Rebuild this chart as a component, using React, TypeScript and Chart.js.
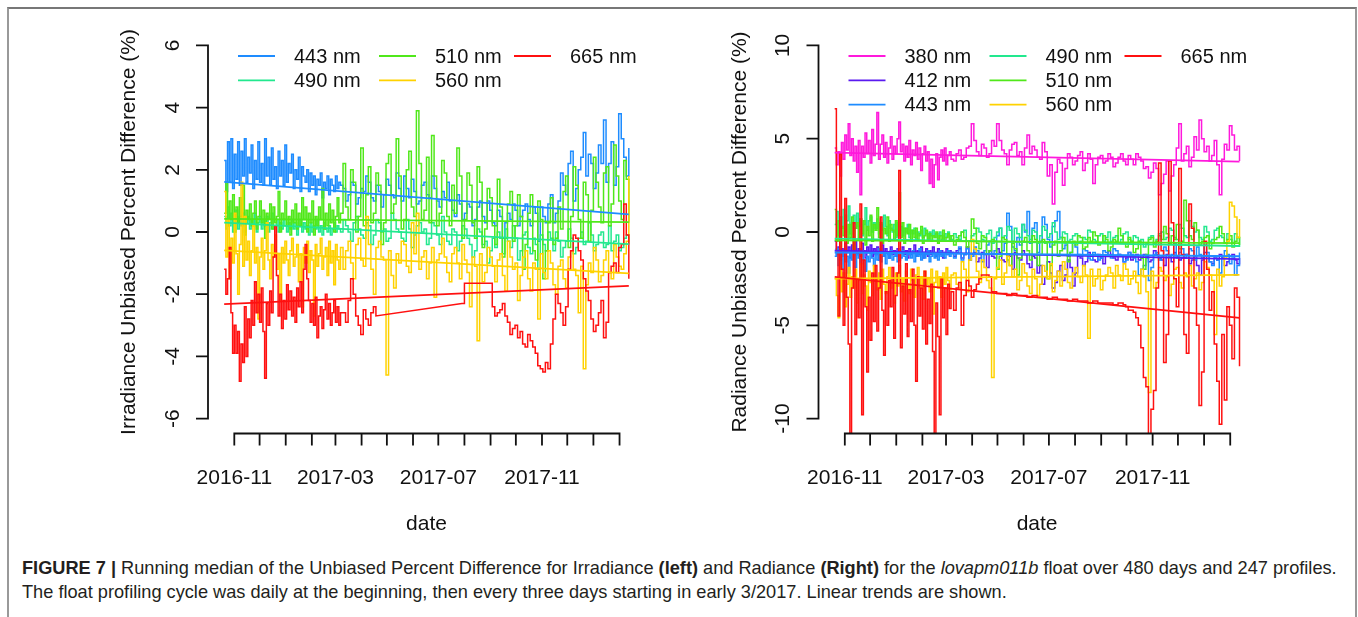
import React, { useEffect, useRef } from 'react';
import { Chart, registerables } from 'chart.js';

Chart.register(...registerables);

// ---------- shared time axis (days since 2016-11-01) ----------
// daily-ish profiles until early March 2017, then every three days
const DAYS = [
  -12, -10, -8, -6, -4, -2, 0, 2, 4, 6,
  8, 10, 12, 14, 16, 18, 20, 22, 24, 26,
  28, 30, 32, 34, 36, 38, 40, 42, 44, 46,
  48, 50, 52, 54, 56, 58, 60, 62, 64, 66,
  68, 70, 72, 74, 76, 78, 80, 82, 84, 86,
  88, 90, 92, 94, 96, 98, 100, 102, 104, 106,
  108, 110, 112, 114, 116, 118, 120, 122, 124, 126,
  129, 132, 135, 138, 141, 144, 147, 150, 153, 156,
  159, 162, 165, 168, 171, 174, 177, 180, 183, 186,
  189, 192, 195, 198, 201, 204, 207, 210, 213, 216,
  219, 222, 225, 228, 231, 234, 237, 240, 243, 246,
  249, 252, 255, 258, 261, 264, 267, 270, 273, 276,
  279, 282, 285, 288, 291, 294, 297, 300, 303, 306,
  309, 312, 315, 318, 321, 324, 327, 330, 333, 336,
  339, 342, 345, 348, 351, 354, 357, 360, 363, 366,
  369, 372, 375, 378, 381, 384, 387, 390, 393, 396,
  399, 402, 405, 408, 411, 414, 417, 420, 423, 426,
  429, 432, 435, 438, 441, 444, 447, 450, 453, 456,
  459, 462, 465, 468,
];
const MONTH_TICKS = [0, 30, 61, 92, 120, 151, 181, 212, 242, 273, 304, 334, 365, 395, 426, 457];
const MONTH_LABELS = ['2016-11', '', '', '', '2017-03', '', '', '', '2017-07', '', '', '', '2017-11', '', '', ''];
const X_MIN = -31.2;
const X_MAX = 487.2;

// ---------- left panel: irradiance ----------
const LEFT_BANDS = ['443 nm', '490 nm', '510 nm', '560 nm', '665 nm'];
const LEFT_COLORS = ['#1E8CFF', '#22E88E', '#50E81A', '#FFD200', '#FF1010'];
const LEFT_Y_TICKS = [-6, -4, -2, 0, 2, 4, 6];

const LEFT_443 = [
  2.3, 1.3, 2.9, 1.6, 3.0, 1.4, 2.5, 1.7, 2.9, 1.5,
  2.6, 1.8, 3.0, 1.6, 2.4, 1.9, 2.8, 1.4, 2.3, 1.7,
  2.9, 1.6, 2.2, 1.5, 3.0, 1.8, 2.4, 1.5, 2.7, 1.7,
  2.1, 1.4, 2.6, 1.8, 2.3, 1.5, 2.8, 1.6, 2.2, 1.9,
  2.5, 1.4, 2.0, 1.7, 2.4, 1.3, 2.1, 1.8, 1.6, 2.0,
  1.3, 1.9, 1.5, 1.8, 1.2, 1.7, 1.5, 1.9, 1.1, 1.6,
  1.4, 1.8, 1.2, 1.7, 1.5, 1.3, 1.8, 1.4, 1.6, 1.5,
  1.4, 1.0, 1.2, 1.6, 1.5, 0.9, 1.1, 1.4, 1.3, 1.8, 1.6, 1.1, 1.0, 1.5, 1.3, 0.8, 1.2, 1.7, 1.5, 1.2,
  1.1, 1.9, 1.4, 1.0, 1.8, 1.4, 1.1, 1.7, 1.3, 0.9, 1.0, 1.5, 1.6, 1.2, 1.1, 1.8, 1.4, 1.0, 0.8, 1.3,
  1.1, 1.6, 1.0, 0.7, 0.5, 1.2, 0.9, 0.4, 0.6, 0.9, 0.8, 0.2, 0.4, 0.8, 1.0, 0.5, 0.3, 1.0, 0.7, 0.3,
  0.2, 0.7, 0.5, -0.2, 0.3, 0.6, 0.4, 0.9, 0.7, 0.2, 0.5, 0.7, 0.9, 0.4, 0.2, 0.8, 0.6, -0.3, 0.8, 0.5,
  0.3, 0.9, 1.2, 0.3, 0.6, 1.0, 1.9, 1.5, 1.2, 2.2, 2.6, 1.0, 1.4, 2.0, 2.4, 3.2, 1.8, 2.5, 2.2, 1.4,
  1.9, 2.8, 2.2, 3.6, 1.6, 2.2, 2.9, 1.5, 2.1, 3.8, 3.0, 2.4, 1.8, 2.7,
];
const LEFT_490 = [
  0.5, 0.1, 0.8, 0.2, 0.6, 0.0, 0.4, 0.7, 0.1, 0.5,
  0.2, 0.6, 0.0, 0.3, 0.5, 0.1, 0.4, 0.2, 0.6, 0.0,
  0.3, 0.5, 0.1, 0.4, 0.2, 0.5, 0.0, 0.3, 0.6, 0.1,
  0.2, 0.4, 0.0, 0.3, 0.1, 0.4, 0.2, 0.0, 0.3, 0.1,
  0.4, 0.1, 0.3, -0.1, 0.2, 0.4, 0.0, 0.3, 0.1, 0.2,
  -0.1, 0.3, 0.0, 0.2, 0.1, 0.4, 0.0, 0.2, -0.1, 0.3,
  0.1, 0.0, 0.2, -0.1, 0.1, 0.3, 0.0, 0.2, 0.1, 0.0,
  0.4, 0.2, 0.0, -0.3, 0.3, 0.5, 0.1, -0.1, -0.2, 0.3, 0.2, -0.4, -0.1, 0.4, 0.3, 0.0, 0.1, -0.3, -0.2, 0.6,
  0.4, 0.1, 0.0, -0.2, -0.3, 0.4, 0.1, -0.5, -0.1, 0.2, 0.3, 0.0, 0.1, -0.4, -0.2, 0.3, 0.2, -0.1, -0.4, 0.5,
  0.0, -0.3, -0.4, 0.1, 0.0, -0.6, -0.3, 0.2, 0.1, -0.2, -0.4, -0.8, -0.6, 0.1, 0.0, -0.4, -0.3, -1.0, -0.6, -0.2,
  -0.5, 0.0, -0.2, -0.7, 0.1, -0.3, -0.5, 0.2, -0.2, -0.9, -0.6, -0.1, 0.0, -0.5, -0.7, -0.2, -0.4, -1.2, -0.1, -0.4,
  -0.6, 0.0, -0.2, -0.6, 0.0, -0.3, -0.8, -0.5, -0.3, 0.1, -0.2, -0.7, -0.5, -0.2, 0.0, -0.4, -0.3, 0.3, -0.1, -0.6,
  -0.4, -0.1, 0.0, -0.5, -0.4, 0.2, -0.6, -0.3, -0.1, -0.6, -0.5, -0.2, -0.1, -0.4,
];
const LEFT_510 = [
  0.6, 1.6, 0.2, 1.0, 0.4, 1.2, 0.0, 0.8, 0.3, 1.1,
  0.5, 1.5, -0.1, 0.7, 0.4, 0.9, 0.2, 0.6, 1.0, 0.1,
  0.5, 1.0, 0.3, 0.7, -0.2, 0.6, 0.4, 0.9, 0.1, 0.8,
  0.3, 0.5, 1.3, 0.0, 0.6, 0.4, 1.0, 0.2, 0.5, -0.1,
  0.7, 0.3, 0.9, 0.1, 0.6, 0.2, 1.1, 0.4, 0.8, 0.0,
  0.6, 0.3, 1.0, -0.1, 0.5, 0.2, 0.8, 0.4, 1.4, 0.1,
  0.6, 0.2, 0.9, 0.3, 0.7, 0.0, 0.5, 1.1, 0.3, 0.6,
  2.2, 0.8, 0.4, 2.0, 1.6, 0.0, 0.5, 2.7, 0.2, 1.2, 2.1, 0.3, 0.6, 1.9, 1.5, -0.4, 0.3, 2.2, 2.5, 0.6,
  0.9, 3.0, 1.8, 0.1, 0.4, 2.0, 2.6, 0.8, 0.5, 3.9, 2.2, 0.4, 0.7, 2.4, 0.3, 3.1, 1.8, 0.2, 0.6, 2.3,
  1.9, 0.5, 0.2, 1.5, 0.6, 2.7, 1.8, -0.2, 0.4, 1.9, 1.5, 0.3, -0.2, 2.1, 1.6, -0.5, 0.1, 1.4, 1.1, 0.2,
  -0.4, 1.7, 0.8, -0.8, -0.2, 0.9, 1.3, -0.3, 0.2, 1.2, 0.5, -1.2, -0.4, 0.6, 1.2, -0.6, -0.9, 1.0, 0.4, -1.5,
  -0.6, 0.3, 1.1, -0.4, -0.2, 0.8, 0.1, 1.3, 1.8, -0.5, 0.5, 2.1, 1.5, 0.4, -0.2, 1.6, 1.2, -0.3, 0.7, 2.4,
  1.6, 0.8, 0.3, 1.9, 2.1, 0.2, 0.9, 2.8, 1.8, 1.0, 0.4, 2.3, 1.7, 0.3,
];
const LEFT_560 = [
  1.3, -0.8, 0.4, -1.5, -0.2, -1.0, 0.6, -0.7, -2.0, -0.4,
  1.6, -1.1, 0.5, -0.9, -0.3, -1.4, -0.6, 0.2, -1.0, -0.5,
  -2.8, -0.8, -0.2, -1.2, -0.6, 0.3, -0.9, -1.5, -0.4, -0.8,
  -0.1, -1.2, -0.7, -2.2, -0.5, -1.0, -0.3, -0.9, -1.4, -0.6,
  -0.2, -1.1, -0.8, -0.4, -1.6, -0.7, -2.4, -0.5, -1.0, -0.3,
  -1.3, -0.6, -0.9, -2.7, -0.4, -1.1, -0.7, -0.2, -1.2, -0.8,
  -0.5, -1.4, -0.3, -1.0, -0.6, -1.7, -0.4, -0.9, -1.2, -0.5,
  -1.2, -0.6, -0.3, -1.0, -1.5, -0.4, -0.2, -0.9, -1.1, 0.5, -0.4, -1.2, -2.0, -0.5, -0.3, -0.8, -0.9, -4.6, -0.6, -1.4,
  -1.8, -0.7, -1.0, -0.3, -0.4, -1.1, -1.3, 0.3, -0.7, 0.6, -1.2, -0.8, -0.6, -1.5, -1.0, -0.5, -2.1, -0.9, -0.7, -0.2,
  -0.8, -1.3, -1.6, -0.7, -0.5, -1.0, -1.5, -0.4, -0.9, -1.3, -2.4, -0.8, -1.1, -3.5, -0.7, -1.6, -1.3, -0.5, -0.8, -1.1,
  -1.6, -0.9, -0.7, -1.4, -1.9, -0.3, -0.8, -1.2, -1.0, -2.2, -1.4, -0.8, -0.6, -1.5, -1.9, -1.0, -1.2, -2.8, -0.7, -1.3,
  -1.5, -0.6, -1.0, -1.7, -2.0, -1.1, -0.9, -1.5, -1.8, -0.8, -0.6, -1.2, -1.4, -2.6, -1.1, -4.4, -1.7, -1.0, -1.3, -0.5,
  -0.9, -1.6, -1.4, -0.9, -0.6, -1.3, -1.5, -0.4, -0.8, -1.1, -1.2, -0.7, -0.3, 1.8,
];
const LEFT_665 = [
  -1.2, -2.0, -1.5, -0.5, -2.6, -3.9, -3.0, -3.9, -3.2, -4.8,
  -3.6, -4.2, -2.4, -4.0, -2.8, -3.4, -2.2, -3.0, -1.6, -2.6,
  -2.0, -2.9, -1.8, -3.2, -4.7, -2.3, -3.0, -1.9, -2.6, -0.8,
  0.2, -1.4, -2.7, -2.0, -3.1, -2.2, -2.8, -1.7, -2.5, -1.9,
  -2.7, -2.1, -2.9, -1.8, -2.4, -1.6, -2.6, -1.2, -0.4, -1.5,
  -2.2, -2.9, -2.3, -3.0, -2.1, -3.4, -2.7, -2.4, -3.1, -2.5,
  -2.0, -2.8, -2.3, -3.0, -2.6, -2.2, -2.9, -2.4, -3.0, -2.6,
  -2.6, -2.9, -2.2, -1.5, -2.0, -2.7, -3.0, -3.3, -2.5, -2.8, -3.0, -2.6, -2.4, -2.7, null, null, null, null, null, null,
  null, null, null, null, null, null, null, null, null, null, null, null, null, null, null, null, null, null, null, null,
  null, null, null, null, null, null, null, -2.3, -1.65, -1.65, -1.65, -1.65, -1.65, -1.65, -1.65, -1.65, -1.65, -1.65, -1.65, -2.4,
  -2.7, -2.6, -2.5, -2.3, -2.7, -2.9, -3.3, -3.1, -3.0, -3.4, -3.2, -3.6, -3.7, -3.3, -3.5, -3.7, -3.9, -4.3, -4.4, -4.5,
  -4.2, -4.4, -3.6, -2.8, -2.0, -2.3, -2.6, -3.0, -2.4, -1.2, -0.6, -0.1, -0.2, -0.6, -0.9, -1.5, -1.9, -2.2, -2.8, -3.2,
  -3.0, -2.6, -2.2, -3.4, -2.9, -1.3, -1.1, -1.0, -1.3, -0.5, -0.4, 0.9, -0.1, -1.5,
];
const LEFT_TREND_START = [1.61, 0.30, 0.42, -0.59, -2.32];
const LEFT_TREND_END = [0.57, -0.39, 0.32, -1.33, -1.73];

// ---------- right panel: radiance ----------
const RIGHT_BANDS = ['380 nm', '412 nm', '443 nm', '490 nm', '510 nm', '560 nm', '665 nm'];
const RIGHT_COLORS = ['#FF19DC', '#5A1AF0', '#1E8CFF', '#22E88E', '#50E81A', '#FFD200', '#FF1010'];
const RIGHT_Y_TICKS = [-10, -5, 0, 5, 10];

const RIGHT_380 = [
  4.5, 3.6, 4.3, 3.0, 4.8, 3.9, 5.2, 4.4, 5.8, 4.1,
  5.0, 3.8, 4.6, 3.2, 4.9, 2.0, 4.6, 4.0, 5.3, 4.2,
  4.9, 3.7, 5.5, 4.1, 4.7, 6.4, 3.9, 4.7, 5.2, 4.0,
  4.8, 3.7, 4.5, 5.1, 3.9, 4.6, 4.2, 5.0, 5.9, 4.3,
  4.7, 3.8, 4.6, 4.0, 4.9, 3.6, 4.4, 4.1, 4.8, 3.9,
  4.5, 3.3, 4.2, 4.6, 3.8, 4.3, 2.6, 3.9, 2.4, 3.6,
  4.2, 2.8, 4.0, 4.4, 3.8, 4.5, 3.6, 4.1, 4.3, 3.9,
  3.8, 4.2, 4.4, 3.9, 4.0, 4.5, 4.6, 5.8, 4.9, 4.3, 4.1, 4.7, 4.5, 4.0, 4.2, 4.9, 4.6, 5.8, 4.9, 4.4,
  4.2, 3.6, 4.4, 4.7, 4.8, 4.1, 4.3, 3.6, 4.5, 5.2, 4.2, 4.6, 4.4, 4.0, 3.9, 4.8, 4.3, 3.0, 3.6, 1.5,
  3.2, 3.9, 3.7, 2.5, 3.4, 4.2, 4.0, 3.6, 3.8, 4.1, 4.3, 3.3, 3.7, 4.2, 3.9, 2.6, 3.6, 4.0, 4.1, 3.7,
  3.8, 4.2, 4.0, 3.5, 3.7, 4.0, 4.2, 3.8, 3.6, 4.1, 3.9, 3.6, 4.2, 4.0, 3.8, 3.4, 3.5, 2.9, 3.2, 3.7,
  3.4, 2.0, 2.6, 3.1, 3.8, 2.2, 3.0, 3.6, 4.5, 5.8, 3.8, 4.2, 4.6, 3.5, 4.0, 5.1, 4.4, 6.0, 5.0, 4.3,
  4.6, 3.8, 4.1, 4.9, 3.6, 2.0, 3.9, 4.7, 4.4, 5.7, 5.2, 4.4, 4.6, 3.8,
];
const RIGHT_412 = [
  -0.5, -1.2, -0.8, -1.5, -0.9, -1.3, -0.6, -1.1, -0.8, -1.4,
  -0.7, -1.0, -0.5, -1.2, -0.9, -1.3, -0.6, -1.0, -1.4, -0.8,
  -1.1, -0.7, -1.3, -0.9, -1.2, -0.8, -1.5, -1.0, -0.7, -1.3,
  -0.9, -1.1, -1.4, -0.8, -1.2, -1.0, -1.3, -0.9, -1.5, -1.1,
  -0.8, -1.2, -1.0, -1.4, -0.9, -1.2, -1.1, -0.7, -1.3, -1.0,
  -1.2, -0.8, -1.4, -1.1, -0.9, -1.3, -1.0, -1.2, -0.8, -1.1,
  -1.3, -0.9, -1.2, -1.0, -1.4, -1.1, -0.9, -1.2, -1.0, -1.1,
  -1.3, -1.0, -0.9, -1.4, -1.2, -0.8, -1.5, -1.2, -1.1, -1.6, -1.4, -1.1, -1.2, -1.9, -1.0, -1.3, -1.4, -0.9, -1.1, -1.5,
  -1.6, -1.2, -1.3, -2.0, -1.1, -1.4, -1.5, -1.0, -1.2, -1.7, -1.9, -1.3, -1.4, -2.2, -1.8, -2.8, -2.4, -1.6, -2.2, -3.0,
  -2.7, -2.1, -1.8, -2.6, -2.3, -1.5, -1.9, -2.9, -2.2, -1.3, -1.4, -1.8, -1.6, -1.1, -1.3, -1.5, -1.6, -1.2, -1.4, -1.7,
  -1.3, -1.0, -1.2, -1.4, -1.5, -1.2, -1.3, -1.6, -1.4, -1.1, -1.5, -1.3, -1.2, -1.5, -1.4, -1.2, -1.3, -1.6, -1.5, -1.0,
  -1.2, -1.4, -1.5, -1.8, -1.2, -1.3, -1.6, -1.1, -1.3, -1.5, -1.4, -1.2, -1.2, -1.7, -1.5, -1.3, -1.8, -2.3, -1.5, -1.1,
  -1.3, -1.6, -1.7, -1.4, -1.5, -1.2, -1.4, -1.8, -1.6, -1.3, -1.2, -1.5, -1.7, -1.4,
];
const RIGHT_443 = [
  -1.3, -0.9, -1.8, -1.2, -2.0, -1.0, -1.6, -1.3, -2.2, -1.1,
  -1.5, -0.8, -1.9, -1.2, -1.4, -1.7, -1.0, -1.5, -2.1, -1.3,
  -1.6, -1.1, -1.4, -1.8, -1.2, -1.5, -0.9, -1.6, -1.3, -1.1,
  -1.7, -1.2, -1.4, -1.0, -1.5, -1.3, -1.1, -1.6, -1.2, -1.4,
  -1.0, -1.3, -1.5, -1.1, -1.2, -1.4, -1.0, -1.6, -1.2, -1.3,
  -0.9, -1.5, -1.1, -1.4, -1.2, -1.0, -1.6, -1.3, -1.1, -1.4,
  -1.2, -1.5, -1.0, -1.3, -1.1, -1.4, -1.2, -1.0, -1.3, -1.1,
  -1.4, -1.1, -0.8, -1.5, -1.2, -0.9, -1.5, -1.3, -0.8, -1.0, -1.2, -1.6, -1.0, -0.7, -0.5, -1.2, -1.0, -0.2, 0.2, -1.0,
  -0.6, 1.0, 0.3, -0.8, -1.0, -0.3, -0.7, 0.4, 0.0, 1.1, -0.6, 0.2, 0.5, -1.1, -0.5, 0.8, 0.4, -0.4, -0.8, 0.3,
  0.6, 1.1, -0.3, -0.9, -0.7, -1.3, -1.1, -0.6, -0.8, -1.2, -1.3, -0.9, -1.0, -1.4, -1.5, -1.1, -1.2, -1.5, -1.4, -1.0,
  -1.1, -1.3, -1.4, -0.9, -1.0, -1.2, -1.3, -1.6, -1.5, -1.1, -1.2, -1.4, -1.6, -2.3, -2.0, -1.8, -1.4, -2.6, -1.9, -1.2,
  -1.1, -1.5, -1.3, -0.8, -1.0, -1.3, -1.2, -0.6, -1.4, -1.1, -0.9, -1.4, -1.2, -0.9, -1.0, -1.5, -0.8, -1.2, -1.4, -0.7,
  -1.1, -1.6, -1.8, -1.3, -1.5, -2.2, -1.3, -1.0, -1.2, -1.7, -1.4, -2.3, -1.8, -1.1,
];
const RIGHT_490 = [
  0.4, 1.1, -0.2, 0.8, 0.2, 1.2, 0.0, 0.6, 1.4, -0.1,
  0.5, 0.9, 0.2, 1.0, 0.3, 0.7, -0.2, 0.4, 1.3, 0.1,
  0.6, 0.8, 0.0, 0.5, 0.2, 0.7, -0.1, 0.4, 0.1, 0.9,
  0.3, -0.2, 0.6, 0.2, 0.0, 0.4, -0.3, 0.5, 0.1, 0.3,
  -0.2, 0.2, 0.0, 0.4, -0.3, 0.1, -0.1, 0.2, -0.4, 0.0,
  -0.2, 0.1, -0.3, 0.2, -0.1, -0.4, 0.0, -0.2, 0.1, -0.3,
  -0.1, -0.4, 0.0, -0.2, -0.5, -0.1, -0.3, 0.0, -0.2, -0.4,
  -0.1, -0.3, -0.4, 0.0, 0.1, -0.5, -0.5, -0.2, -0.1, 0.2, 0.0, -0.4, -0.5, -0.1, 0.1, -0.6, -0.3, 0.0, 0.2, -0.3,
  -0.2, 0.3, 0.1, -0.5, 0.2, -0.1, -0.3, 0.4, 0.1, -0.2, -0.4, 0.1, 0.0, -0.6, -0.2, 0.3, 0.1, -0.3, -0.1, 0.5,
  0.0, -0.4, -0.3, 0.0, -0.1, -0.5, -0.4, -0.2, -0.1, -0.6, -0.5, -0.3, -0.4, 0.1, 0.0, -0.4, -0.5, -0.2, -0.1, -0.5,
  -0.3, 0.0, -0.5, -0.3, -0.2, -0.6, -0.4, -0.1, 0.0, -0.4, -0.5, -0.2, -0.3, -0.5, -0.4, -0.8, -0.6, -0.3, -0.2, -0.6,
  -0.4, -0.1, 0.0, -0.4, -0.3, 0.2, 0.1, -0.3, -0.4, 0.4, 0.2, -0.2, -0.3, 0.6, 0.3, 0.0, 0.1, -0.3, -0.4, 0.3,
  0.0, -0.5, -0.4, 0.1, 0.2, -0.2, -0.3, -0.6, -0.1, -0.4, -0.6, -0.1, -0.3, -0.8,
];
const RIGHT_510 = [
  1.2, -0.5, 0.6, -0.8, 0.3, -0.2, 0.9, -0.6, 0.4, -0.3,
  0.8, -0.9, 0.2, 0.5, -0.4, 0.7, -0.1, 0.6, -0.7, 0.3,
  -0.2, 0.9, -0.5, 0.4, 0.1, 1.3, -0.3, 0.5, -0.6, 0.2,
  -0.1, 0.8, -0.5, 0.4, 0.1, -0.4, 0.6, -0.2, 2.1, -0.3,
  0.5, -0.6, 0.2, -0.1, 0.4, -0.5, 0.1, -0.3, 0.2, -0.4,
  -0.1, 0.3, -0.6, -0.2, 0.1, -0.4, -0.1, -0.5, -0.2, -0.3,
  0.0, -0.6, -0.2, -0.4, 0.1, -0.5, -0.3, -0.1, -0.4, -0.2,
  -0.7, -0.4, -0.2, 0.0, -0.3, -0.8, -0.5, 0.7, 0.2, -0.6, -0.9, -0.2, -0.3, -1.2, -1.0, -0.4, -0.5, -2.0, -1.3, -0.3,
  -0.4, -1.5, -1.8, -0.6, -0.9, -2.3, -1.4, -0.5, -0.3, -1.0, -1.5, -0.2, -0.4, -1.8, -1.2, -0.4, -0.6, -2.5, -1.8, -0.7,
  -0.5, -1.3, -1.0, -0.3, -0.6, -1.6, -1.1, -0.5, -0.7, -0.2, -0.3, -0.9, -0.8, -0.3, -0.5, 0.0, -0.2, -0.7, -0.6, -0.2,
  -0.4, -1.0, -0.8, -0.4, -0.5, 0.2, -0.2, -0.6, -0.8, -0.3, -0.5, -1.1, -0.9, -0.5, -1.4, -2.0, -1.2, -0.4, -0.3, -0.8,
  -0.5, -0.2, -0.4, 0.3, -0.1, -0.6, -0.2, -0.4, 0.4, -0.9, -0.5, 1.7, 0.6, -0.2, -0.4, 0.5, 0.1, -0.7, -0.5, -0.3,
  -0.2, -0.9, -0.6, -0.4, -0.3, 0.3, -0.1, -0.6, -0.4, -0.2, -0.8, -0.5, -0.3, -0.7,
];
const RIGHT_560 = [
  -2.5, -3.4, -4.6, -1.8, -3.2, -2.2, -4.0, -2.8, -1.9, -3.5,
  -2.4, -3.0, -2.0, -3.8, -2.6, -1.7, -3.3, -2.3, -2.9, -4.2,
  -2.1, -2.7, -3.4, -1.8, -2.5, -3.1, -2.2, -3.6, -2.0, -2.8,
  -3.3, -2.4, -1.9, -3.0, -2.6, -3.8, -2.2, -2.9, -1.8, -3.2,
  -2.5, -3.7, -2.1, -2.8, -3.3, -2.0, -2.6, -3.5, -2.3, -1.9,
  -3.0, -2.4, -3.6, -2.1, -2.8, -2.5, -3.2, -2.0, -4.4, -2.7,
  -2.1, -3.0, -2.4, -3.5, -2.2, -2.8, -1.9, -2.6, -3.1, -2.3,
  -2.2, -2.8, -3.0, -1.6, -2.0, -3.2, -1.5, -0.4, -0.9, -2.1, -2.7, -1.5, -1.9, -2.6, -3.0, -7.8, -2.5, -1.9, -1.5, -2.8,
  -2.2, -1.3, -1.8, -2.4, -2.0, -3.1, -2.6, -1.7, -2.2, -2.9, -3.3, -2.0, -2.5, -3.4, -2.8, -1.8, -2.1, -2.5, -1.7, -3.2,
  -2.6, -2.1, -2.9, -1.6, -2.0, -2.7, -3.0, -2.2, -1.9, -2.4, -2.7, -1.8, -2.3, -5.7, -2.0, -2.9, -2.5, -2.0, -3.1, -2.6,
  -2.3, -1.9, -2.2, -3.0, -1.8, -2.3, -2.6, -1.7, -2.0, -2.8, -2.5, -2.1, -2.7, -3.3, -2.0, -2.4, -3.2, -8.6, -2.1, -3.0,
  -2.7, -1.9, -2.1, -2.6, -2.4, -3.4, -2.8, -2.0, -1.9, -2.7, -3.0, -2.2, -2.4, -1.8, -2.9, -2.5, -2.2, -3.1, -2.7, -1.6,
  -1.9, -2.3, -2.6, -5.5, -2.0, -2.9, -2.4, -1.4, -0.5, 1.6, 1.4, 0.8, -0.3, 0.7,
];
const RIGHT_665 = [
  6.6, -1.0, -4.5, 4.2, -2.0, -5.0, 1.8, -3.5, -6.0, -11.5,
  -3.0, 0.5, -5.5, -2.5, -4.6, 1.5, -9.8, -1.5, -4.0, -7.5,
  -3.5, -5.8, -2.2, -4.8, -1.8, -5.3, -3.0, 0.8, -4.2, -6.6,
  -3.2, -5.0, -2.6, -4.0, -1.9, -5.7, -3.4, -2.2, 3.3, -6.2,
  -2.9, -4.4, -1.7, -5.6, -3.1, -4.8, -2.0, -5.0, -8.0, -2.4,
  -4.5, -3.0, -5.2, -2.1, -6.0, -3.6, -4.9, -2.8, -6.4, -11.5,
  -3.8, -5.6, -9.8, -2.5, -4.6, -3.0, -5.5, -2.8, -4.1, -3.2,
  -4.2, -3.0, -2.7, -5.0, -3.4, -2.6, -2.9, -3.5, -3.1, -2.8, -2.5, -2.3, -2.3, -2.3, -2.4, -3.2, -3.2, -3.3, -3.3, -3.3,
  -3.3, -3.4, -3.4, -3.3, -3.3, -3.4, -3.4, -3.4, -3.4, -3.5, -3.5, -3.4, -3.4, -3.5, -3.5, -3.5, -3.5, -3.6, -3.6, -3.5,
  -3.5, -3.6, -3.6, -3.6, -3.6, -3.7, -3.7, -3.6, -3.6, -3.7, -3.7, -3.7, -3.7, -3.8, -3.8, -3.7, -3.7, -3.8, -3.8, -3.8,
  -3.8, -3.8, -3.8, -3.9, -3.9, -3.8, -3.8, -3.9, -4.0, -4.2, -4.2, -4.3, -4.6, -5.0, -6.2, -7.8, -8.3, -11.5, -9.5, -8.5,
  -3.0, 3.7, -1.0, -7.0, -5.5, 3.8, 0.5, -2.5, -4.0, 3.4, -1.2, -5.5, -6.5, 1.5, 0.2, -3.0, -5.0, -9.3, -7.5, -0.5,
  -2.0, -4.2, -3.2, -6.0, -8.0, -10.3, -5.5, -9.0, -4.0, -5.0, -6.8, -3.0, -3.5, -7.2,
];
const RIGHT_TREND_START = [4.25, -1.0, -1.1, -0.35, -0.45, -2.5, -2.4];
const RIGHT_TREND_END = [3.77, -1.45, -1.3, -0.75, -0.6, -2.3, -4.6];

// ---------- helpers ----------
const FONT_FAMILY = '"Liberation Sans", Arial, Helvetica, sans-serif';
const CANVAS_W = 1358;
const CANVAS_H = 540;

function stepPoints(days: number[], vals: (number | null)[]) {
  const pts: { x: number; y: number }[] = [];
  let lastIdx = -1;
  let last = 0;
  for (let i = 0; i < days.length && i < vals.length; i++) {
    const v = vals[i];
    if (v === null || v === undefined) continue;
    if (lastIdx >= 0 && lastIdx === i - 1) pts.push({ x: days[i], y: last });
    pts.push({ x: days[i], y: v });
    lastIdx = i;
    last = v;
  }
  return pts;
}

const rAxesPlugin = {
  id: 'rAxes',
  afterDraw(chart: any) {
    const o = chart.options.plugins.rAxes;
    if (!o) return;
    const { ctx, chartArea } = chart;
    const xs = chart.scales.x;
    const ys = chart.scales.y;
    const L = chartArea.left;
    const B = chartArea.bottom;
    const T = chartArea.top;
    ctx.save();
    ctx.strokeStyle = '#111';
    ctx.fillStyle = '#111';
    ctx.lineWidth = 1.8;
    ctx.lineCap = 'butt';
    const yt: number[] = o.yTicks;
    const xt: number[] = o.xTicks;
    ctx.beginPath();
    ctx.moveTo(L, ys.getPixelForValue(yt[yt.length - 1]) - 0.9);
    ctx.lineTo(L, ys.getPixelForValue(yt[0]) + 0.9);
    yt.forEach((v) => {
      const p = ys.getPixelForValue(v);
      ctx.moveTo(L - 12, p);
      ctx.lineTo(L, p);
    });
    ctx.moveTo(xs.getPixelForValue(xt[0]) - 0.9, B);
    ctx.lineTo(xs.getPixelForValue(xt[xt.length - 1]) + 0.9, B);
    xt.forEach((v) => {
      const p = xs.getPixelForValue(v);
      ctx.moveTo(p, B);
      ctx.lineTo(p, B + 12);
    });
    ctx.stroke();

    ctx.font = '21px ' + FONT_FAMILY;
    ctx.textAlign = 'center';
    ctx.textBaseline = 'alphabetic';
    yt.forEach((v) => {
      const p = ys.getPixelForValue(v);
      ctx.save();
      ctx.translate(L - 29.5, p);
      ctx.rotate(-Math.PI / 2);
      ctx.fillText(String(v), 0, 0);
      ctx.restore();
    });
    xt.forEach((v, i) => {
      const lab = o.xLabels[i];
      if (lab) ctx.fillText(lab, xs.getPixelForValue(v), B + 50.5);
    });
    ctx.fillText(o.xTitle, (L + chartArea.right) / 2, B + 96.5);
    ctx.save();
    ctx.translate(L - 73, (T + B) / 2);
    ctx.rotate(-Math.PI / 2);
    ctx.fillText(o.yTitle, 0, 0);
    ctx.restore();

    // legend (column-major, 3 columns)
    const items = chart.data.datasets.filter((d: any) => d.inLegend);
    const nrow = Math.ceil(items.length / 3);
    const cols: number[] = o.legendCols;
    ctx.font = '20px ' + FONT_FAMILY;
    ctx.textAlign = 'left';
    ctx.textBaseline = 'middle';
    ctx.lineWidth = 1.8;
    items.forEach((d: any, k: number) => {
      const col = Math.floor(k / nrow);
      const row = k % nrow;
      const x0 = L + cols[col];
      const y0 = T + 25.5 + row * 24.3;
      ctx.strokeStyle = d.borderColor;
      ctx.beginPath();
      ctx.moveTo(x0, y0);
      ctx.lineTo(x0 + 37, y0);
      ctx.stroke();
      ctx.fillStyle = '#111';
      ctx.fillText(d.label, x0 + 56, y0 + 1);
    });
    ctx.restore();
  },
};

type PanelProps = {
  bands: string[];
  colors: string[];
  series: (number | null)[][];
  trendStart: number[];
  trendEnd: number[];
  yTicks: number[];
  yTitle: string;
  areaLeft: number;
  areaRight: number;
  yLimit: number;
};

function Panel(p: PanelProps) {
  const ref = useRef<HTMLCanvasElement | null>(null);
  useEffect(() => {
    if (!ref.current) return;
    const datasets: any[] = [];
    p.series.forEach((vals, i) => {
      datasets.push({
        label: p.bands[i],
        inLegend: true,
        data: stepPoints(DAYS, vals),
        borderColor: p.colors[i],
        backgroundColor: p.colors[i],
        borderWidth: 1.5,
        pointRadius: 0,
        tension: 0,
        fill: false,
        order: 100 - i,
      });
    });
    p.series.forEach((_, i) => {
      datasets.push({
        label: p.bands[i] + ' trend',
        inLegend: false,
        data: [
          { x: DAYS[0], y: p.trendStart[i] },
          { x: DAYS[DAYS.length - 1], y: p.trendEnd[i] },
        ],
        borderColor: p.colors[i],
        borderWidth: 1.8,
        pointRadius: 0,
        tension: 0,
        fill: false,
        order: 50 - i,
      });
    });
    const chart = new Chart(ref.current, {
      type: 'line',
      data: { datasets },
      options: {
        animation: false,
        responsive: false,
        maintainAspectRatio: false,
        devicePixelRatio: 1,
        events: [],
        layout: {
          padding: {
            left: p.areaLeft,
            right: CANVAS_W - p.areaRight,
            top: 30.5,
            bottom: CANVAS_H - 433.5,
          },
        },
        scales: {
          x: { type: 'linear', min: X_MIN, max: X_MAX, display: false },
          y: { type: 'linear', min: -p.yLimit, max: p.yLimit, display: false },
        },
        plugins: {
          legend: { display: false },
          tooltip: { enabled: false },
          // @ts-ignore
          rAxes: {
            yTicks: p.yTicks,
            xTicks: MONTH_TICKS,
            xLabels: MONTH_LABELS,
            xTitle: 'date',
            yTitle: p.yTitle,
            legendCols: [30, 171, 306],
          },
        },
      } as any,
      plugins: [rAxesPlugin as any],
    });
    return () => chart.destroy();
  }, []);
  return (
    <canvas
      ref={ref}
      width={CANVAS_W}
      height={CANVAS_H}
      style={{ position: 'absolute', left: 0, top: 0, width: CANVAS_W, height: CANVAS_H }}
    />
  );
}

export default function App() {
  return (
    <div style={{ position: 'absolute', left: 0, top: 0, width: 1358, height: 617, background: '#fff', overflow: 'hidden' }}>
      <div
        style={{
          position: 'absolute',
          left: 7,
          top: 7,
          width: 1346,
          height: 700,
          borderTop: '2px solid #777',
          borderLeft: '2px solid #999',
          borderRight: '2px solid #999',
        }}
      />
      <Panel
        bands={LEFT_BANDS}
        colors={LEFT_COLORS}
        series={[LEFT_443, LEFT_490, LEFT_510, LEFT_560, LEFT_665]}
        trendStart={LEFT_TREND_START}
        trendEnd={LEFT_TREND_END}
        yTicks={LEFT_Y_TICKS}
        yTitle="Irradiance Unbiased Percent Difference (%)"
        areaLeft={208}
        areaRight={645}
        yLimit={6.48}
      />
      <Panel
        bands={RIGHT_BANDS}
        colors={RIGHT_COLORS}
        series={[RIGHT_380, RIGHT_412, RIGHT_443, RIGHT_490, RIGHT_510, RIGHT_560, RIGHT_665]}
        trendStart={RIGHT_TREND_START}
        trendEnd={RIGHT_TREND_END}
        yTicks={RIGHT_Y_TICKS}
        yTitle="Radiance Unbiased Percent Difference (%)"
        areaLeft={818.5}
        areaRight={1255.7}
        yLimit={10.8}
      />
      <div
        style={{
          position: 'absolute',
          left: 22,
          top: 556,
          font: '18.2px ' + FONT_FAMILY,
          lineHeight: '24px',
          color: '#231f20',
          whiteSpace: 'nowrap',
        }}
      >
        <b>FIGURE 7 |</b> Running median of the Unbiased Percent Difference for Irradiance <b>(left)</b> and Radiance{' '}
        <b>(Right)</b> for the <i>lovapm011b</i> float over 480 days and 247 profiles.
        <br />
        The float profiling cycle was daily at the beginning, then every three days starting in early 3/2017. Linear trends
        are shown.
      </div>
    </div>
  );
}
